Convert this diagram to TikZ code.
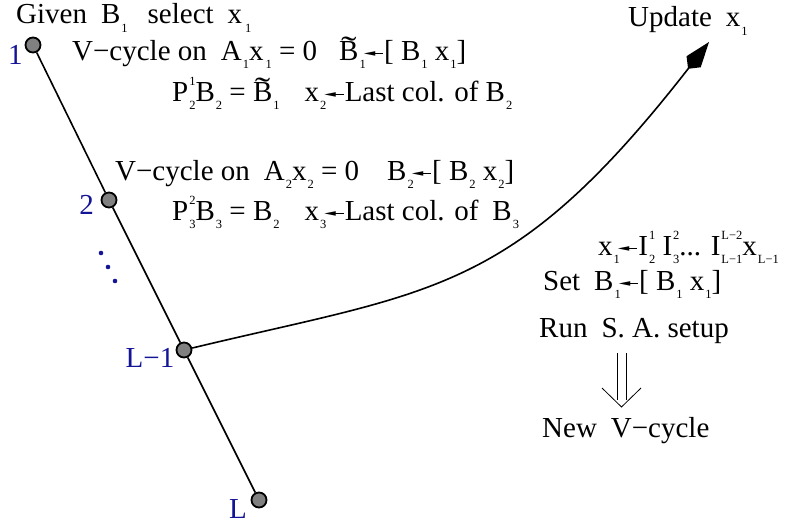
\documentclass[tikz,border=0pt]{standalone}
\usepackage{fontspec}
\usepackage{graphicx}
\setmainfont{Liberation Serif}
\newfontfamily\djv{DejaVu Sans}
\usetikzlibrary{arrows.meta}
\definecolor{lblblue}{RGB}{20,20,150}
\definecolor{dotgray}{RGB}{128,128,128}
\newcommand{\mysub}[1]{\kern1pt\raisebox{-8.5pt}{\fontsize{12.5}{12.5}\selectfont #1}}
\newcommand{\mysubsup}[2]{\kern1pt\rlap{\raisebox{16pt}{\fontsize{12.5}{12.5}\selectfont #1}}\raisebox{-8.5pt}{\fontsize{12.5}{12.5}\selectfont #2}}
\newcommand{\Bt}{\ooalign{B\cr\hidewidth\raisebox{1.5pt}{\scalebox{1.6}[1.1]{\char"02DC}}\hidewidth\cr}}
\newcommand{\larr}{\kern-2pt$\vcenter{\hbox{\scalebox{1.5}[0.6]{\djv\fontsize{10}{10}\selectfont ◀}}}\mkern-3mu\vcenter{\hrule width 12pt height 1pt}$\kern1pt}
\begin{document}
\begin{tikzpicture}[x=1pt,y=-1pt,
  txt/.style={anchor=base west, inner sep=0pt, font=\fontsize{29}{35}\selectfont},
  lbl/.style={inner sep=0pt, font=\fontsize{29}{35}\selectfont, text=lblblue},
  lev/.style={circle, draw=black, line width=1.8pt, fill=dotgray, minimum size=15pt, inner sep=0pt},
  edge/.style={line width=1.6pt},
  vdot/.style={circle, fill=lblblue, minimum size=4.6pt, inner sep=0pt}]
\useasboundingbox (0,0) rectangle (790,527);
% level nodes
\node[lev] (n1) at (33,45) {};
\node[lev] (n2) at (109,200) {};
\node[lev] (n3) at (184,350) {};
\node[lev] (n4) at (259,500) {};
\draw[edge] (n1) -- (n2);
\draw[edge] (n2) -- (n3);
\draw[edge] (n3) -- (n4);
% labels
\node[lbl] (l1) at (15.5,55) {1};
\node[lbl] (l2) at (86.5,205) {2};
\node[lbl] (l3) at (150,358) {L−1};
\node[lbl] (l4) at (238,509) {L};
\node[vdot] (d1) at (101,253) {};
\node[vdot] (d2) at (108,267) {};
\node[vdot] (d3) at (115,281) {};
% texts
\node[txt] (t0) at (16,24) {Given\hspace{14pt}B\mysub{1}\hspace{20pt}select\hspace{14pt}x\kern2pt\mysub{1}};
\node[txt] (t1) at (72,60) {V−cycle on\hspace{14pt}A\mysub{1}x\kern1pt\mysub{1}\ =\ 0\hspace{22pt}\Bt\mysub{1}\larr[\ B\mysub{1}\ x\mysub{1}]};
\node[txt] (t2) at (172,101) {P\mysubsup{1}{2}B\mysub{2}\ =\ \Bt\mysub{1}\hspace{25pt}x\mysub{2}\larr Last col. of B\mysub{2}};
\node[txt] (t3) at (115,180) {V−cycle on\hspace{14pt}A\mysub{2}x\mysub{2}\ =\ 0\hspace{28pt}B\mysub{2}\larr[\ B\mysub{2}\ x\mysub{2}]};
\node[txt] (t4) at (172,220) {P\mysubsup{2}{3}B\mysub{3}\ =\ B\mysub{2}\hspace{25pt}x\mysub{3}\larr Last col. of\hspace{14pt}B\mysub{3}};
\node[txt] (t5) at (598,255) {x\mysub{1}\larr I\mysubsup{1}{2}\ I\mysubsup{2}{3}... I\mysubsup{L−2}{L−1}x\mysub{L−1}};
\node[txt] (t6) at (543,290) {Set\hspace{14pt}B\mysub{1}\larr[\ B\mysub{1}\ x\mysub{1}]};
\node[txt] (t7) at (539,337) {Run\hspace{14pt}S. A. setup};
\node[txt] (t8) at (542,437) {New\hspace{14pt}V−cycle};
\node[txt] (t9) at (628,27) {Update\hspace{14pt}x\mysub{1}};
% update curve
\coordinate (tip) at (709,42);
\draw[edge, -{Kite[length=34pt,width=18pt,inset=9pt]}] (n3) .. controls (434,290) and (512,295) .. (tip);
% double arrow
\draw[line width=0.8pt] (617,353) -- (617,400) (626,353) -- (626,400);
\draw[line width=0.8pt] (602,388) -- (621.5,407) -- (641,388);
\end{tikzpicture}
\end{document}
